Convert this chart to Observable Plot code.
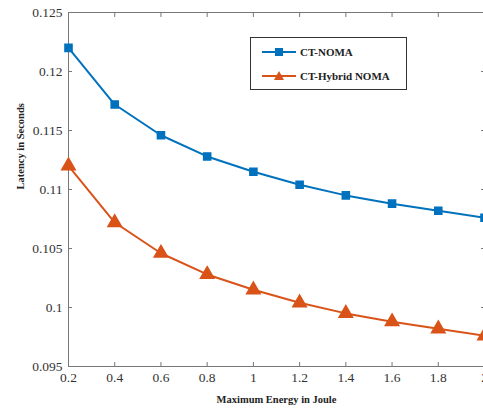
<!DOCTYPE html>
<html><head><meta charset="utf-8">
<script src="https://cdn.jsdelivr.net/npm/d3@7"></script>
<script src="https://cdn.jsdelivr.net/npm/@observablehq/plot@0.6"></script>
<style>
html,body{margin:0;padding:0;background:#fff;overflow:hidden;}
#wrap{position:relative;width:483px;height:408px;overflow:hidden;}
#wrap svg{overflow:hidden;}
#legend{position:absolute;left:250px;top:37px;width:157px;height:53px;border:1px solid #333;background:#fff;box-sizing:border-box;font:bold 11px "Liberation Serif",serif;color:#222;}
.row{position:absolute;left:11px;display:flex;align-items:center;}
.row span{margin-left:4px;}
</style></head><body>
<div id="wrap"></div>
<script>
const energy = [0.2, 0.4, 0.6, 0.8, 1.0, 1.2, 1.4, 1.6, 1.8, 2.0];
const ctNoma = [0.1220, 0.1172, 0.1146, 0.1128, 0.1115, 0.1104, 0.1095, 0.1088, 0.1082, 0.1076];
const ctHybrid = [0.1120, 0.1072, 0.1046, 0.1028, 0.1015, 0.1004, 0.0995, 0.0988, 0.0982, 0.0976];
const seriesNames = ["CT-NOMA", "CT-Hybrid NOMA"];
const xTicks = [0.2, 0.4, 0.6, 0.8, 1, 1.2, 1.4, 1.6, 1.8, 2];
const yTicks = [0.095, 0.1, 0.105, 0.11, 0.115, 0.12, 0.125];
const colors = ["#0072BD", "#D95319"];

const data = [];
energy.forEach((e, i) => {
  data.push({x: e, y: ctNoma[i], s: seriesNames[0]});
  data.push({x: e, y: ctHybrid[i], s: seriesNames[1]});
});

const font = "'Liberation Serif', 'Times New Roman', serif";
const chart = Plot.plot({
  width: 483, height: 408,
  marginLeft: 68, marginRight: -1, marginTop: 12, marginBottom: 42,
  style: {fontFamily: font, fontSize: "13px", color: "#333", background: "#fff"},
  x: {domain: [0.2, 2], ticks: xTicks, label: null},
  y: {domain: [0.095, 0.125], ticks: yTicks, label: null},
  color: {domain: seriesNames, range: colors},
  marks: [
    Plot.frame({stroke: "#777", strokeWidth: 1}),
    Plot.axisX({ticks: xTicks, tickSize: -4, text: null, stroke: "#777"}),
    Plot.axisX({ticks: xTicks, anchor: "top", tickSize: -4, text: null, stroke: "#777"}),
    Plot.axisX({ticks: xTicks, tickSize: 0, tickPadding: 6, tickFormat: d => String(d), fill: "#333", fontSize: 13.5, fontFamily: font}),
    Plot.axisY({ticks: yTicks, tickSize: -4, text: null, stroke: "#777"}),
    Plot.axisY({ticks: yTicks, anchor: "right", tickSize: -4, text: null, stroke: "#777"}),
    Plot.axisY({ticks: yTicks, tickSize: 0, tickPadding: 6, tickFormat: d => String(+d.toFixed(3)), fill: "#333", fontSize: 13.5, fontFamily: font}),
    Plot.line(data, {x: "x", y: "y", z: "s", stroke: "s", strokeWidth: 2}),
    Plot.dot(data.filter(d => d.s === seriesNames[0]), {x: "x", y: "y", symbol: "square", r: 4, fill: colors[0], stroke: colors[0]}),
    Plot.dot(data.filter(d => d.s === seriesNames[1]), {x: "x", y: "y", symbol: "triangle", r: 5, fill: colors[1], stroke: colors[1]}),
    Plot.text(["Maximum Energy in Joule"], {frameAnchor: "bottom", dy: 36, fontWeight: "bold", fontSize: 10.5, fill: "#222", fontFamily: font}),
    Plot.text(["Latency in Seconds"], {frameAnchor: "left", dx: -48, rotate: -90, fontWeight: "bold", fontSize: 10.5, fill: "#222", fontFamily: font})
  ]
});
const wrap = document.getElementById("wrap");
wrap.appendChild(chart);

const legend = document.createElement("div");
legend.id = "legend";
const syms = [
  '<rect x="13" y="3" width="8" height="8" fill="' + colors[0] + '"/>',
  '<path d="M17 2 L22 11 L12 11 Z" fill="' + colors[1] + '"/>'
];
seriesNames.forEach((n, i) => {
  const row = document.createElement("div");
  row.className = "row";
  row.style.top = (i === 0 ? 7 : 31) + "px";
  row.innerHTML = '<svg width="34" height="14"><line x1="0" x2="34" y1="7" y2="7" stroke="' + colors[i] + '" stroke-width="2"/>' + syms[i] + '</svg><span>' + n + '</span>';
  legend.appendChild(row);
});
wrap.appendChild(legend);
</script>
</body></html>
